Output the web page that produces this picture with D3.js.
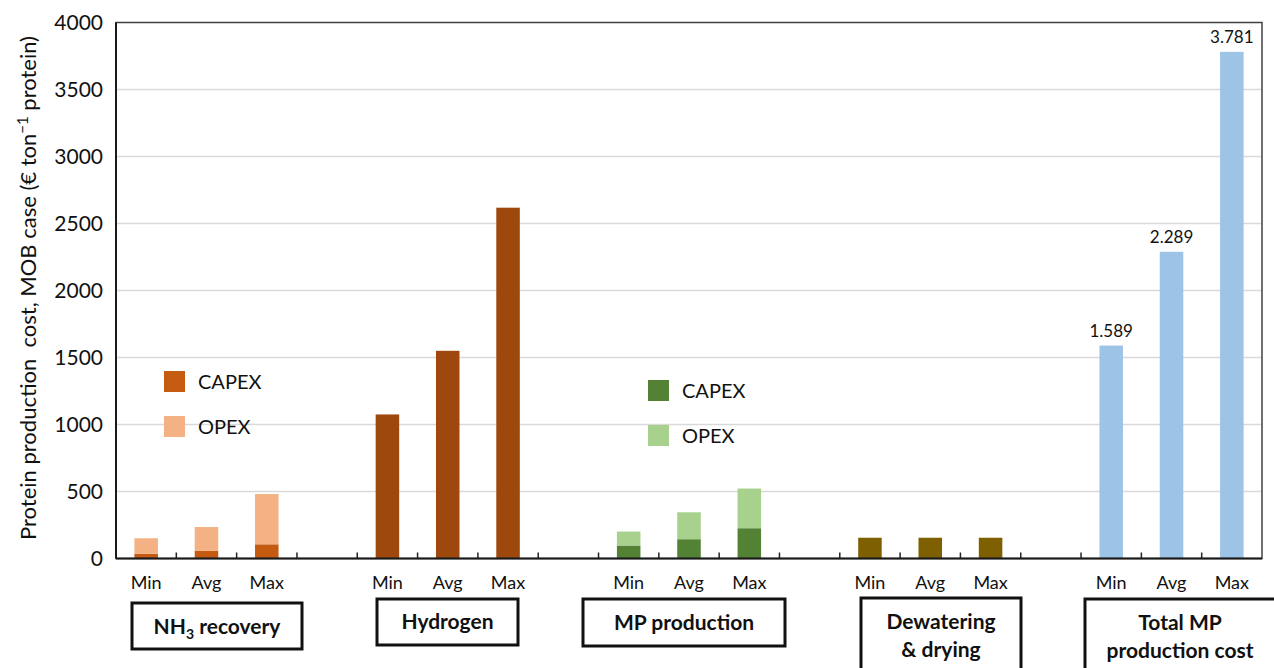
<!DOCTYPE html>
<html>
<head>
<meta charset="utf-8">
<script src="https://cdn.jsdelivr.net/npm/d3@7/dist/d3.min.js"></script>
<style>
  html, body { margin: 0; padding: 0; background: #fff; }
  svg { display: block; font-family: Lato, 'Open Sans', sans-serif; }
</style>
</head>
<body>
<svg id="chart" width="1274" height="668"></svg>
<script>
// data
const groups = ['NH3 recovery', 'Hydrogen', 'MP production', 'Dewatering & drying', 'Total MP production cost'];
const levels = ['Min', 'Avg', 'Max'];
const nh3Capex = [35, 58, 106];
const nh3Opex = [116, 177, 375];
const hydrogenCost = [1075, 1550, 2618];
const mpCapex = [97, 144, 226];
const mpOpex = [104, 201, 296];
const dewateringCost = [155, 155, 155];
const totalCost = [1589, 2289, 3781];
const totalLabels = ['1.589', '2.289', '3.781'];
const yTicks = [0, 500, 1000, 1500, 2000, 2500, 3000, 3500, 4000];

const width = 1274, height = 668;
const margin = { left: 116, right: 12, top: 22.5, bottom: 109.5 };

const svg = d3.select('#chart');

// slot list: 3 bars per group, one empty slot between groups
const slots = [];
groups.forEach((g, gi) => {
  levels.forEach((l, li) => slots.push(gi + '-' + li));
  if (gi < groups.length - 1) slots.push('gap' + gi);
});

const x = d3.scaleBand()
  .domain(slots)
  .range([margin.left, width - margin.right]);

const y = d3.scaleLinear()
  .domain([0, 4000])
  .range([height - margin.bottom, margin.top]);

const barW = x.bandwidth() * 0.39;
const barX = key => x(key) + (x.bandwidth() - barW) / 2;

// stacked segments
const segments = [];
levels.forEach((l, i) => {
  segments.push({ key: '0-' + i, y0: 0, y1: nh3Capex[i], color: '#c55a11' });
  segments.push({ key: '0-' + i, y0: nh3Capex[i], y1: nh3Capex[i] + nh3Opex[i], color: '#f4b183' });
  segments.push({ key: '1-' + i, y0: 0, y1: hydrogenCost[i], color: '#9e480e' });
  segments.push({ key: '2-' + i, y0: 0, y1: mpCapex[i], color: '#548235' });
  segments.push({ key: '2-' + i, y0: mpCapex[i], y1: mpCapex[i] + mpOpex[i], color: '#a9d18e' });
  segments.push({ key: '3-' + i, y0: 0, y1: dewateringCost[i], color: '#7f6000' });
  segments.push({ key: '4-' + i, y0: 0, y1: totalCost[i], color: '#9dc3e6' });
});

// gridlines
svg.append('g')
  .selectAll('line')
  .data(yTicks.filter(t => t > 0 && t < 4000))
  .join('line')
  .attr('x1', margin.left)
  .attr('x2', width - margin.right)
  .attr('y1', d => y(d))
  .attr('y2', d => y(d))
  .attr('stroke', '#d9d9d9')
  .attr('stroke-width', 1.5);

// x ticks (inward, at each slot boundary)
const boundaries = slots.slice(1).map(s => x(s));
svg.append('g')
  .selectAll('line')
  .data(boundaries)
  .join('line')
  .attr('x1', d => d)
  .attr('x2', d => d)
  .attr('y1', y(0))
  .attr('y2', y(0) - 6)
  .attr('stroke', '#222')
  .attr('stroke-width', 1.5);

// bars
svg.append('g')
  .selectAll('rect')
  .data(segments)
  .join('rect')
  .attr('x', d => barX(d.key))
  .attr('width', barW)
  .attr('y', d => y(d.y1))
  .attr('height', d => y(d.y0) - y(d.y1))
  .attr('fill', d => d.color);

// frame
svg.append('rect')
  .attr('x', margin.left)
  .attr('y', margin.top)
  .attr('width', width - margin.right - margin.left)
  .attr('height', y(0) - margin.top)
  .attr('fill', 'none')
  .attr('stroke', '#404040')
  .attr('stroke-width', 1.5);
svg.append('line')
  .attr('x1', margin.left).attr('x2', width - margin.right)
  .attr('y1', y(0)).attr('y2', y(0))
  .attr('stroke', '#1a1a1a').attr('stroke-width', 2);
svg.append('line')
  .attr('x1', margin.left).attr('x2', margin.left)
  .attr('y1', margin.top).attr('y2', y(0))
  .attr('stroke', '#1a1a1a').attr('stroke-width', 2);

// total labels
svg.append('g')
  .selectAll('text')
  .data(totalCost)
  .join('text')
  .attr('x', (d, i) => x('4-' + i) + x.bandwidth() / 2)
  .attr('y', d => y(d) - 9)
  .attr('text-anchor', 'middle')
  .attr('font-size', 17)
  .attr('fill', '#111')
  .text((d, i) => totalLabels[i]);

// y tick labels
svg.append('g')
  .selectAll('text')
  .data(yTicks)
  .join('text')
  .attr('x', 103)
  .attr('y', d => y(d))
  .attr('dy', '0.35em')
  .attr('text-anchor', 'end')
  .attr('font-size', 21)
  .attr('fill', '#111')
  .text(d => d);

// y axis title
const yTitle = svg.append('text')
  .attr('transform', 'translate(28,' + 288 + ') rotate(-90)')
  .attr('text-anchor', 'middle')
  .attr('dy', '0.35em')
  .attr('font-size', 22)
  .attr('fill', '#111');
yTitle.append('tspan').text('Protein production\u00a0 cost, MOB case (€ ton');
yTitle.append('tspan').attr('dy', -8).attr('font-size', 15).text('\u22121');
yTitle.append('tspan').attr('dy', 8).text(' protein)');

// Min / Avg / Max labels
svg.append('g')
  .selectAll('text')
  .data(slots.filter(s => !s.startsWith('gap')))
  .join('text')
  .attr('x', d => x(d) + x.bandwidth() / 2)
  .attr('y', 583)
  .attr('dy', '0.35em')
  .attr('text-anchor', 'middle')
  .attr('font-size', 18)
  .attr('fill', '#111')
  .text(d => levels[+d.split('-')[1]]);

// group boxes
const boxes = [
  { left: 132, right: 302, top: 603, bottom: 649, lines: [null] },
  { left: 377, right: 518, top: 599, bottom: 645, lines: ['Hydrogen'] },
  { left: 583, right: 785, top: 599, bottom: 646, lines: ['MP production'] },
  { left: 861, right: 1021, top: 598, bottom: 676, lines: ['Dewatering', '& drying'] },
  { left: 1085, right: 1280, top: 599, bottom: 676, lines: ['Total MP', 'production cost'] }
];
boxes.forEach((b, i) => {
  svg.append('rect')
    .attr('x', b.left).attr('y', b.top)
    .attr('width', b.right - b.left).attr('height', b.bottom - b.top)
    .attr('fill', '#fff')
    .attr('stroke', '#111')
    .attr('stroke-width', 3);
  const cx = i === 4 ? 1180 : (b.left + b.right) / 2;
  if (i === 0) {
    const t = svg.append('text')
      .attr('x', cx).attr('y', 627).attr('dy', '0.35em')
      .attr('text-anchor', 'middle')
      .attr('font-size', 21).attr('font-weight', 'bold').attr('fill', '#111');
    t.append('tspan').text('NH');
    t.append('tspan').attr('dy', 5).attr('font-size', 14).text('3');
    t.append('tspan').attr('dy', -5).text(' recovery');
  } else if (b.lines.length === 1) {
    svg.append('text')
      .attr('x', cx).attr('y', (b.top + b.bottom) / 2).attr('dy', '0.35em')
      .attr('text-anchor', 'middle')
      .attr('font-size', 21).attr('font-weight', 'bold').attr('fill', '#111')
      .text(b.lines[0]);
  } else {
    b.lines.forEach((line, li) => {
      svg.append('text')
        .attr('x', cx).attr('y', b.top + 24 + li * 28).attr('dy', '0.35em')
        .attr('text-anchor', 'middle')
        .attr('font-size', 21).attr('font-weight', 'bold').attr('fill', '#111')
        .text(line);
    });
  }
});

// legends
const legends = [
  { x: 164, y: 371, items: [['CAPEX', '#c55a11'], ['OPEX', '#f4b183']] },
  { x: 648, y: 380, items: [['CAPEX', '#548235'], ['OPEX', '#a9d18e']] }
];
legends.forEach(lg => {
  const g = svg.append('g').attr('transform', 'translate(' + lg.x + ',' + lg.y + ')');
  const item = g.selectAll('g')
    .data(lg.items)
    .join('g')
    .attr('transform', (d, i) => 'translate(0,' + i * 45 + ')');
  item.append('rect')
    .attr('width', 21).attr('height', 21)
    .attr('fill', d => d[1]);
  item.append('text')
    .attr('x', 34).attr('y', 11).attr('dy', '0.35em')
    .attr('font-size', 20).attr('fill', '#111')
    .text(d => d[0]);
});
</script>
</body>
</html>
